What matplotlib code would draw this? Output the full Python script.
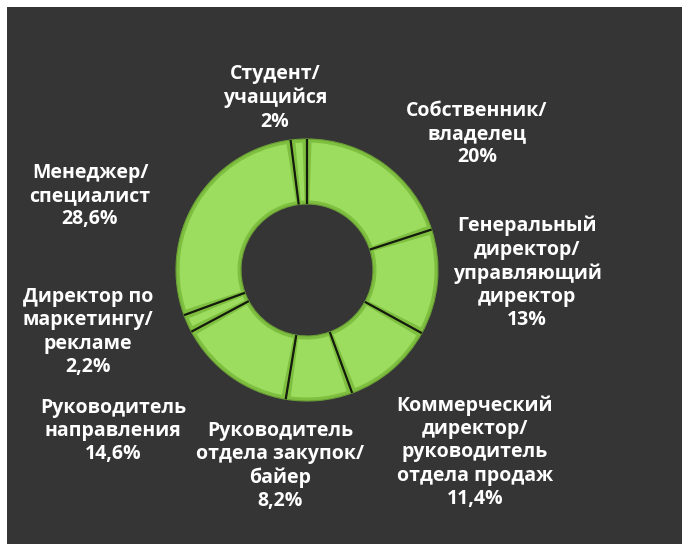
import numpy as np
import matplotlib.pyplot as plt
from matplotlib.patches import Wedge, Rectangle

# data
labels = ['Собственник/\nвладелец\n20%',
          'Генеральный\nдиректор/\nуправляющий\nдиректор\n13%',
          'Коммерческий\nдиректор/\nруководитель\nотдела продаж\n11,4%',
          'Руководитель\nотдела закупок/\nбайер\n8,2%',
          'Руководитель\nнаправления\n14,6%',
          'Директор по\nмаркетингу/\nрекламе\n2,2%',
          'Менеджер/\nспециалист\n28,6%',
          'Студент/\nучащийся\n2%']
values = [20, 13, 11.4, 8.2, 14.6, 2.2, 28.6, 2]

# label centres in pixels (x, y from top)
label_pos = [(477, 134), (527, 273), (475, 452), (280, 466),
             (113, 431), (88, 332), (90, 196), (275, 98)]

W, H = 684, 544
fig = plt.figure(figsize=(W / 100, H / 100), dpi=100, facecolor='white')
ax = fig.add_axes([0, 0, 1, 1])
ax.set_xlim(0, W)
ax.set_ylim(0, H)
ax.set_aspect('equal')
ax.axis('off')

ax.add_patch(Rectangle((7, 0), 675, H - 7, facecolor='#353535', edgecolor='none'))

cx, cy = 307, H - 270
r_out, ring = 131, 65

ends = np.cumsum(values) / sum(values) * 360
starts = np.concatenate([[0], ends[:-1]])

for s, e in zip(starts, ends):
    t1, t2 = 90 - e, 90 - s
    # outer bevel (darker base)
    ax.add_patch(Wedge((cx, cy), r_out, t1, t2, width=ring,
                       facecolor='#7fbf40', edgecolor='#6a9f35', linewidth=0.8))
    # lighter face, slightly inset
    inset = np.degrees(3.5 / (r_out - ring / 2))
    ax.add_patch(Wedge((cx, cy), r_out - 3.5, t1 + inset, t2 - inset,
                       width=ring - 7, facecolor='#9cdc5e', edgecolor='none'))

# dark separators between slices
for a in np.radians(90 - starts):
    ax.plot([cx + (r_out - ring) * np.cos(a), cx + r_out * np.cos(a)],
            [cy + (r_out - ring) * np.sin(a), cy + r_out * np.sin(a)],
            color='#141a0c', linewidth=1.6, solid_capstyle='butt')

for txt, (x, y) in zip(labels, label_pos):
    ax.text(x, H - y, txt, ha='center', va='center', multialignment='center',
            color='white', fontsize=14, fontweight='bold',
            family=['Open Sans', 'DejaVu Sans'], linespacing=1.22)

fig.savefig('out.png', dpi=100, facecolor=fig.get_facecolor())
